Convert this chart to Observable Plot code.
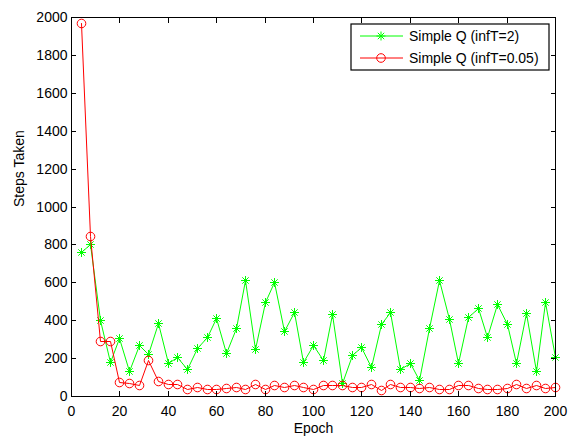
<!DOCTYPE html>
<html><head><meta charset="utf-8">
<script src="https://cdn.jsdelivr.net/npm/d3@7"></script>
<script src="https://cdn.jsdelivr.net/npm/@observablehq/plot@0.6"></script>
<style>
body{margin:0;background:#fff;}
#chart{position:relative;width:573px;height:437px;}
</style>
</head><body><div id="chart"></div>
<script>
const epochs = [4,8,12,16,20,24,28,32,36,40,44,48,52,56,60,64,68,72,76,80,84,88,92,96,100,104,108,112,116,120,124,128,132,136,140,144,148,152,156,160,164,168,172,176,180,184,188,192,196,200];
const stepsInfT2 = [758,803,403,178,305,133,270,220,385,173,205,143,255,313,411,226,358,610,248,495,599,343,442,182,270,191,432,71,217,261,152,379,442,143,173,85,358,612,406,173,416,463,313,485,381,173,437,134,498,205];
const stepsInfT005 = [1966,843,292,292,75,70,56,190,81,62,62,37,46,37,37,44,49,37,63,37,58,46,58,49,37,58,58,58,49,46,63,32,63,49,46,41,49,37,37,58,58,41,37,37,44,63,41,58,41,46];
const seriesNames = ["Simple Q (infT=2)", "Simple Q (infT=0.05)"];
const seriesColors = ["#00ff00", "#ff0000"];
const xTicks = [0,20,40,60,80,100,120,140,160,180,200];
const yTicks = [0,200,400,600,800,1000,1200,1400,1600,1800,2000];
const xLabel = "Epoch";
const yLabel = "Steps Taken";

const dataA = epochs.map((e, i) => ({epoch: e, steps: stepsInfT2[i]}));
const dataB = epochs.map((e, i) => ({epoch: e, steps: stepsInfT005[i]}));

function pickDims(args) {
  return args.find(a => a && a.width !== undefined && a.marginLeft !== undefined);
}

function legend(...args) {
  const dims = pickDims(args);
  const right = dims.width - dims.marginRight;
  const g = d3.create("svg:g").attr("text-anchor", "start");
  const bx = 351, by = 24, bw = right - 6 - bx, bh = 46;
  g.append("rect").attr("x", bx).attr("y", by).attr("width", bw).attr("height", bh)
    .attr("fill", "#fff").attr("stroke", "#000").attr("stroke-width", 1.2);
  const rows = [36, 58];
  rows.forEach((yy, i) => {
    const c = seriesColors[i];
    g.append("line").attr("x1", 360).attr("x2", 403).attr("y1", yy).attr("y2", yy).attr("stroke", c).attr("stroke-width", 1);
    if (i === 0) {
      g.append("path").attr("transform", `translate(381,${yy})`)
        .attr("d", d3.symbol(d3.symbolPlus, Math.PI * 3 * 3)()).attr("stroke", c).attr("fill", "none");
      g.append("path").attr("transform", `translate(381,${yy})`)
        .attr("d", d3.symbol(d3.symbolTimes, Math.PI * 3 * 3)()).attr("stroke", c).attr("fill", "none");
    } else {
      g.append("circle").attr("cx", 381).attr("cy", yy).attr("r", 4.3).attr("stroke", c).attr("fill", "none");
    }
    g.append("text").attr("x", 409).attr("y", yy).attr("dy", "0.35em").attr("text-anchor", "start")
      .attr("fill", "#000").attr("font-size", 14).text(seriesNames[i]);
  });
  return g.node();
}

const fmt = d => String(d);
const none = () => "";

const plot = Plot.plot({
  width: 573,
  height: 437,
  marginLeft: 71,
  marginRight: 18,
  marginTop: 17,
  marginBottom: 41,
  style: {fontFamily: "'Liberation Sans', Arial, Helvetica, sans-serif", fontSize: "14px", color: "#000", background: "#fff", overflow: "visible"},
  x: {domain: [0, 200], round: true},
  y: {domain: [0, 2000], round: true},
  marks: [
    Plot.axisX(xTicks, {anchor: "bottom", tickSize: 0, tickPadding: 10, label: null, tickFormat: fmt, fontSize: 14}),
    Plot.axisY(yTicks, {anchor: "left", tickSize: 0, tickPadding: 4, label: null, tickFormat: fmt, fontSize: 14}),
    Plot.line(dataA, {x: "epoch", y: "steps", stroke: seriesColors[0], strokeWidth: 1}),
    Plot.dot(dataA, {x: "epoch", y: "steps", symbol: "plus", r: 3, stroke: seriesColors[0], strokeWidth: 1}),
    Plot.dot(dataA, {x: "epoch", y: "steps", symbol: "times", r: 3, stroke: seriesColors[0], strokeWidth: 1}),
    Plot.line(dataB, {x: "epoch", y: "steps", stroke: seriesColors[1], strokeWidth: 1}),
    Plot.dot(dataB, {x: "epoch", y: "steps", symbol: "circle", r: 4.3, stroke: seriesColors[1], fill: "none", strokeWidth: 1}),
    Plot.frame({stroke: "#000", strokeWidth: 1}),
    Plot.axisX(xTicks, {anchor: "bottom", tickSize: -5, tickFormat: none, label: null, stroke: "#000", strokeWidth: 1}),
    Plot.axisX(xTicks, {anchor: "top", tickSize: -5, tickFormat: none, label: null, stroke: "#000", strokeWidth: 1}),
    Plot.axisY(yTicks, {anchor: "left", tickSize: -5, tickFormat: none, label: null, stroke: "#000", strokeWidth: 1}),
    Plot.axisY(yTicks, {anchor: "right", tickSize: -5, tickFormat: none, label: null, stroke: "#000", strokeWidth: 1}),
    legend,
    Plot.text([xLabel], {text: d => d, frameAnchor: "bottom", lineAnchor: "middle", dy: 32, fontSize: 14, fill: "#000"}),
    Plot.text([yLabel], {text: d => d, frameAnchor: "left", lineAnchor: "middle", rotate: -90, dx: -52, fontSize: 14, fill: "#000"})
  ]
});
document.getElementById("chart").appendChild(plot);
</script>
</body></html>
